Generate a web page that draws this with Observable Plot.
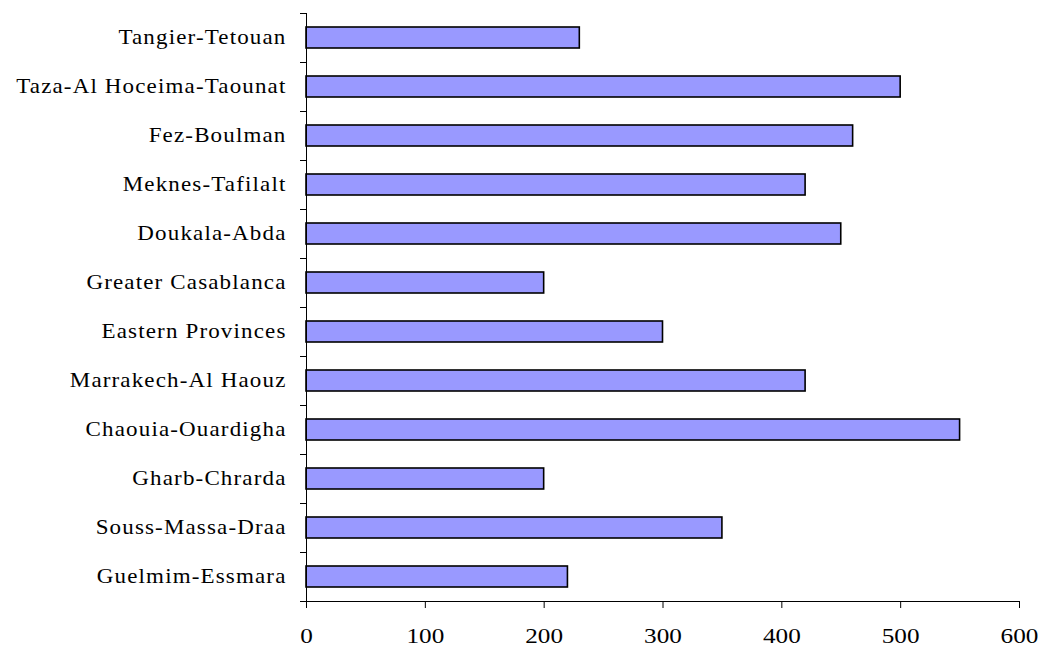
<!DOCTYPE html>
<html>
<head>
<meta charset="utf-8">
<script src="https://cdn.jsdelivr.net/npm/d3@7"></script>
<script src="https://cdn.jsdelivr.net/npm/@observablehq/plot@0.6"></script>
<style>
  html, body { margin: 0; padding: 0; background: #fff; }
  #chart svg { display: block; }
</style>
</head>
<body>
<div id="chart"></div>
<script>
// Regions of Morocco, listed top to bottom
const regions = [
  "Tangier-Tetouan",
  "Taza-Al Hoceima-Taounat",
  "Fez-Boulman",
  "Meknes-Tafilalt",
  "Doukala-Abda",
  "Greater Casablanca",
  "Eastern Provinces",
  "Marrakech-Al Haouz",
  "Chaouia-Ouardigha",
  "Gharb-Chrarda",
  "Souss-Massa-Draa",
  "Guelmim-Essmara"
];
const values = [230, 500, 460, 420, 450, 200, 300, 420, 550, 200, 350, 220];
const xTicks = [0, 100, 200, 300, 400, 500, 600];

const data = regions.map((region, i) => ({region, value: values[i]}));
const lastRegion = regions[regions.length - 1];

const width = 1040, height = 649;
const marginTop = 13, marginBottom = 48, marginLeft = 306, marginRight = 21;
const step = (height - marginTop - marginBottom) / regions.length;

const chart = Plot.plot({
  width, height,
  marginTop, marginBottom, marginLeft, marginRight,
  style: {fontFamily: "'Liberation Serif', 'Times New Roman', serif", color: "#000", background: "#fff"},
  x: {domain: [0, 600]},
  y: {domain: regions, paddingInner: 0.58, paddingOuter: 0.29},
  marks: [
    Plot.barX(data, {x: "value", y: "region", fill: "#9999ff", stroke: "#000", strokeWidth: 1.6}),
    // axis lines
    Plot.ruleX([0], {stroke: "#000", strokeWidth: 1}),
    Plot.ruleY([lastRegion], {y: d => d, x1: 0, x2: 600, dy: step / 2, stroke: "#000", strokeWidth: 1}),
    // category labels
    Plot.axisY({tickSize: 0, tickPadding: 20, label: null, fontSize: 20}),
    // ticks between categories
    Plot.axisY({tickSize: 6, tickFormat: () => "", label: null, dy: -step / 2, strokeWidth: 1}),
    Plot.axisY({ticks: [lastRegion], tickSize: 6, tickFormat: () => "", label: null, dy: step / 2, strokeWidth: 1}),
    Plot.axisX({ticks: xTicks, tickSize: 7, tickPadding: 20, tickFormat: d => String(d), label: null, fontSize: 21, strokeWidth: 1})
  ]
});

// widen the serif labels a little
chart.querySelectorAll('[aria-label="y-axis tick label"] text').forEach(t => {
  const tr = t.getAttribute("transform") || "";
  t.setAttribute("transform", tr + " scale(1.15,1)");
  t.style.letterSpacing = "1px";
});
chart.querySelectorAll('[aria-label="x-axis tick label"] text').forEach(t => {
  const tr = t.getAttribute("transform") || "";
  t.setAttribute("transform", tr + " scale(1.2,1)");
});

document.getElementById("chart").appendChild(chart);
</script>
</body>
</html>
